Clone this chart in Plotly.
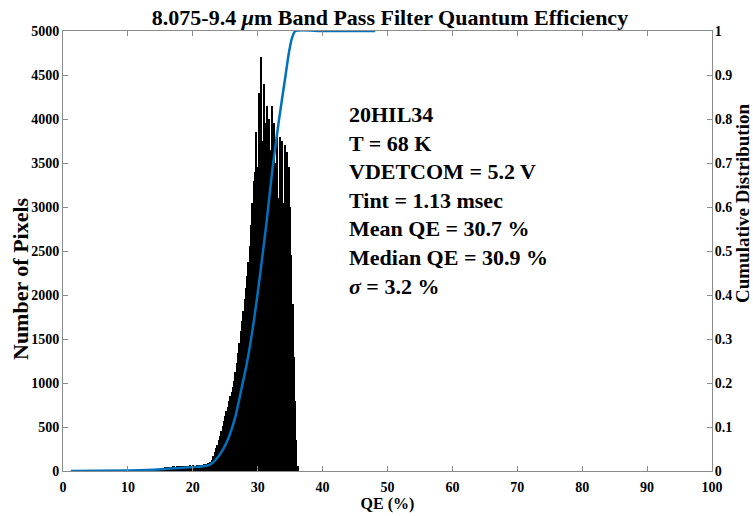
import plotly.graph_objects as go

# ---- data ----
bin_width = 0.2
first_bin_center = 13.8
counts = [
    5, 8, 10, 14, 18,
    22, 26, 30, 34, 38,
    40, 44, 42, 48, 50,
    46, 52, 55, 50, 56,
    54, 58, 52, 60, 56,
    58, 62, 55, 60, 64,
    60, 66, 58, 62, 68,
    64, 70, 66, 72, 68,
    74, 78, 82, 90, 98,
    100, 130, 170, 215, 260,
    300, 350, 400, 450, 510,
    570, 620, 680, 730, 790,
    850, 900, 960, 1025, 1120,
    1230, 1340, 1460, 1590, 1700,
    1820, 1950, 2080, 2220, 2380,
    2560, 2800, 3050, 3300, 3400,
    3850, 3450, 4300, 3950, 4700,
    3750, 4400, 3950, 4150, 3350,
    4000, 3650, 4150, 3200, 3950,
    3500, 3850, 3100, 3800, 3450,
    3750, 3050, 3700, 3350, 3620,
    3450, 3000, 2450, 1900, 1300,
    800, 350, 60,
]
bin_centers = [round(first_bin_center + bin_width * i, 3) for i in range(len(counts))]

cdf_qe = [1.2, 10, 14, 16, 18, 20, 21.6, 22.6, 23.5, 24.5, 25.5, 26.5, 27.4, 28.4,
          29.4, 30.4, 31.4, 32.3, 33.3, 34.3, 34.8, 35.3, 35.8, 40, 45, 48.1]
cdf_val = [0.0, 0.001, 0.003, 0.005, 0.007, 0.009, 0.011, 0.014, 0.025, 0.045, 0.075,
           0.12, 0.18, 0.25, 0.34, 0.45, 0.57, 0.69, 0.80, 0.90, 0.95, 0.985, 1.0,
           1.0, 1.0, 1.0]

x_ticks = [0, 10, 20, 30, 40, 50, 60, 70, 80, 90, 100]
y_ticks = [0, 500, 1000, 1500, 2000, 2500, 3000, 3500, 4000, 4500, 5000]
y2_ticks = [0, 0.1, 0.2, 0.3, 0.4, 0.5, 0.6, 0.7, 0.8, 0.9, 1]

info_lines = ["20HIL34", "T = 68 K", "VDETCOM = 5.2 V", "Tint = 1.13 msec",
              "Mean QE = 30.7 %", "Median QE = 30.9 %", "<i>σ</i> = 3.2 %"]

FONT = "Liberation Serif"
AX = "#8c8c8c"
W, H = 753, 516
L, R, T, B = 63, 41, 31, 45
PW, PH = W - L - R, H - T - B


def px_x(px):
    return (px - L) / PW


def px_y(py):
    return (H - B - py) / PH


fig = go.Figure()
fig.add_trace(go.Bar(x=bin_centers, y=counts, width=bin_width,
                     marker=dict(color="black", line=dict(width=0)),
                     showlegend=False))
fig.add_trace(go.Scatter(x=cdf_qe, y=cdf_val, yaxis="y2", mode="lines",
                         line=dict(color="#0072BD", width=2.5, shape="spline", smoothing=0.6),
                         showlegend=False))

axis_common = dict(showgrid=False, zeroline=False, showline=True, linecolor=AX,
                   linewidth=1, ticks="inside", ticklen=5, tickcolor=AX, automargin=False,
                   tickfont=dict(family=FONT, size=14, color="black"))

fig.update_layout(
    width=W, height=H,
    margin=dict(l=L, r=R, t=T, b=B),
    plot_bgcolor="white", paper_bgcolor="white",
    bargap=0,
    title=dict(text="<b>8.075-9.4 <i>μ</i>m Band Pass Filter Quantum Efficiency</b>",
               x=390 / W, xref="container", xanchor="center",
               y=1 - 17 / H, yref="container", yanchor="middle",
               font=dict(family=FONT, size=22, color="black")),
    xaxis=dict(range=[0, 100], tickvals=x_ticks, ticktext=[f"<b>{v}</b>" for v in x_ticks],
               mirror="ticks", ticklabelstandoff=3,
               title=dict(text="<b>QE (%)</b>", font=dict(family=FONT, size=16, color="black"),
                          standoff=2),
               **axis_common),
    yaxis=dict(range=[0, 5000], tickvals=y_ticks, ticktext=[f"<b>{v}</b>" for v in y_ticks],
               **axis_common),
    yaxis2=dict(range=[0, 1], overlaying="y", side="right", tickvals=y2_ticks,
                ticktext=[f"<b>{v:g}</b>" for v in y2_ticks], ticklabelstandoff=-1,
                **axis_common),
    annotations=[
        dict(text="<b>" + "<br>".join(info_lines) + "</b>",
             xref="paper", yref="paper", x=px_x(347), y=px_y(100),
             xanchor="left", yanchor="top", align="left", showarrow=False,
             font=dict(family=FONT, size=22, color="black")),
        dict(text="<b>Number of Pixels</b>", textangle=-90,
             xref="paper", yref="paper", x=px_x(20), y=px_y(279),
             xanchor="center", yanchor="middle", showarrow=False,
             font=dict(family=FONT, size=22, color="black")),
        dict(text="<b>Cumulative Distribution</b>", textangle=-90,
             xref="paper", yref="paper", x=px_x(742), y=px_y(204),
             xanchor="center", yanchor="middle", showarrow=False,
             font=dict(family=FONT, size=19, color="black")),
    ],
)

fig.write_html("out.html")
